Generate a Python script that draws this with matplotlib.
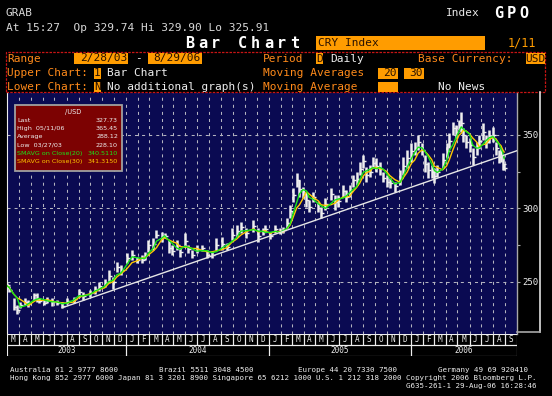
import matplotlib
matplotlib.use("Agg")
import matplotlib.pyplot as plt
import matplotlib.dates as mdates
import matplotlib.patches as mpatches
import matplotlib.markers as mmarkers
from matplotlib.lines import Line2D
import pandas as pd

W, H = 552, 396
NAVY = "#0a0a52"
ORANGE = "#ff9c00"
LABEL_ORANGE = "#ff8a1a"
PANEL_RED = "#c81414"
WHITE = "#eeeeee"
GRAY = "#a8a8a8"
GRID = "#b4b4c0"
GREEN = "#19e619"
YELLOW = "#ffc800"
BOX_RED = "#7c0202"
MONO = "DejaVu Sans Mono"

dates = [
    "2003-02-28", "2003-03-07", "2003-03-18", "2003-03-27", "2003-04-04", "2003-04-17",
    "2003-04-25", "2003-05-09", "2003-05-16", "2003-05-23", "2003-06-03", "2003-06-12",
    "2003-06-25", "2003-07-07", "2003-07-21", "2003-08-01", "2003-08-19", "2003-09-02",
    "2003-09-12", "2003-09-30", "2003-10-13", "2003-10-24", "2003-11-07", "2003-11-17",
    "2003-11-28", "2003-12-08", "2003-12-19", "2004-01-02", "2004-01-16", "2004-01-29",
    "2004-02-10", "2004-02-19", "2004-02-27", "2004-03-11", "2004-03-19", "2004-04-01",
    "2004-04-09", "2004-04-19", "2004-04-27", "2004-05-10", "2004-05-18", "2004-06-01",
    "2004-06-09", "2004-06-17", "2004-06-30", "2004-07-13", "2004-07-26", "2004-08-09",
    "2004-08-20", "2004-09-03", "2004-09-16", "2004-09-28", "2004-10-11", "2004-10-22",
    "2004-11-05", "2004-11-23", "2004-12-06", "2004-12-17", "2004-12-23", "2005-01-05",
    "2005-01-18", "2005-01-31", "2005-02-08", "2005-02-17", "2005-02-25", "2005-03-04",
    "2005-03-14", "2005-03-21", "2005-03-30", "2005-04-08", "2005-04-15", "2005-04-25",
    "2005-05-09", "2005-05-16", "2005-05-27", "2005-06-10", "2005-06-20", "2005-06-28",
    "2005-07-11", "2005-07-19", "2005-07-28", "2005-08-05", "2005-08-15", "2005-08-23",
    "2005-09-01", "2005-09-09", "2005-09-19", "2005-09-26", "2005-10-05", "2005-10-13",
    "2005-10-21", "2005-10-31", "2005-11-08", "2005-11-21", "2005-12-05", "2005-12-12",
    "2005-12-23", "2006-01-03", "2006-01-11", "2006-01-20", "2006-01-30", "2006-02-06",
    "2006-02-15", "2006-02-24", "2006-03-03", "2006-03-10", "2006-03-24", "2006-04-03",
    "2006-04-10", "2006-04-19", "2006-04-27", "2006-05-05", "2006-05-11", "2006-05-15",
    "2006-05-23", "2006-06-01", "2006-06-09", "2006-06-19", "2006-06-26", "2006-07-05",
    "2006-07-13", "2006-07-21", "2006-07-31", "2006-08-08", "2006-08-16", "2006-08-21",
    "2006-08-25", "2006-08-29",
]
highs = [
    248.9, 247.0, 238.6, 234.1, 236.3, 238.6, 237.5, 242.5, 242.0, 238.6, 237.5, 239.3,
    238.6, 237.5, 236.3, 238.6, 239.8, 245.4, 243.2, 244.7, 247.0, 250.0, 251.6, 257.9,
    253.4, 263.6, 261.3, 269.8, 271.6, 267.0, 268.2, 270.4, 278.4, 279.5, 285.2, 284.1,
    283.0, 278.4, 275.0, 278.4, 272.7, 283.0, 275.0, 271.6, 275.0, 275.0, 271.6, 270.4,
    279.5, 280.7, 276.1, 286.4, 288.6, 290.9, 286.4, 292.0, 286.4, 286.4, 288.6, 284.1,
    288.6, 286.4, 287.5, 293.2, 302.3, 313.6, 323.9, 319.3, 314.8, 311.4, 305.7, 311.4,
    304.5, 301.1, 306.8, 313.6, 309.1, 309.1, 315.9, 312.5, 315.9, 322.7, 325.0, 331.8,
    336.4, 328.4, 329.5, 335.2, 334.1, 331.8, 325.0, 322.7, 320.5, 318.2, 326.1, 335.2,
    339.8, 344.3, 345.5, 350.0, 344.3, 336.4, 331.8, 329.5, 327.3, 329.5, 337.5, 344.3,
    351.1, 359.1, 356.8, 360.5, 365.45, 354.5, 350.0, 347.7, 340.9, 345.5, 350.0, 358.0,
    350.0, 353.4, 355.7, 345.5, 339.8, 340.9, 335.2, 329.90,
]
lows = [
    245.4, 243.2, 230.7, 228.1, 231.8, 234.1, 232.5, 237.5, 236.3, 235.2, 234.1, 235.2,
    233.4, 234.1, 231.8, 234.8, 235.2, 239.3, 237.5, 239.3, 241.6, 243.9, 246.1, 250.0,
    245.4, 256.8, 254.5, 262.5, 264.8, 262.5, 262.5, 264.8, 270.4, 271.6, 279.5, 277.3,
    279.5, 269.3, 268.2, 271.6, 267.0, 273.9, 269.3, 265.9, 269.3, 271.1, 265.9, 265.9,
    271.6, 271.6, 271.6, 278.4, 280.7, 283.0, 279.5, 284.1, 277.3, 281.8, 284.1, 278.9,
    283.0, 282.5, 283.0, 286.4, 293.2, 304.5, 314.8, 308.0, 306.8, 301.1, 297.7, 304.5,
    297.7, 293.2, 298.9, 305.7, 298.9, 301.1, 307.9, 304.5, 307.9, 314.8, 315.9, 322.7,
    327.3, 318.2, 321.6, 327.3, 325.0, 322.7, 318.2, 314.8, 313.6, 311.4, 315.9, 322.7,
    327.3, 331.8, 336.4, 339.8, 336.4, 325.0, 320.4, 320.4, 317.0, 321.6, 327.3, 334.1,
    340.9, 350.0, 347.7, 353.4, 352.0, 345.5, 340.9, 338.6, 329.5, 336.4, 340.9, 346.6,
    340.9, 344.3, 345.5, 336.4, 330.7, 331.8, 326.1, 325.91,
]
closes = [
    247.5, 244.5, 233.0, 231.0, 234.0, 236.0, 235.0, 241.0, 238.0, 237.0, 235.5, 237.5,
    236.0, 235.5, 233.5, 237.0, 238.0, 243.0, 240.0, 242.5, 245.0, 247.0, 249.0, 254.0,
    250.0, 260.0, 258.0, 266.0, 268.0, 265.0, 265.0, 268.0, 275.0, 276.0, 282.0, 281.0,
    281.0, 273.0, 271.0, 275.0, 270.0, 278.0, 272.0, 268.5, 272.0, 273.0, 268.5, 268.0,
    275.0, 276.0, 274.0, 282.0, 284.5, 287.0, 283.0, 288.0, 281.0, 284.0, 286.0, 281.0,
    286.0, 284.0, 285.0, 290.0, 298.0, 309.0, 319.0, 313.0, 310.0, 306.0, 301.0, 308.0,
    300.0, 297.0, 303.0, 310.0, 304.0, 305.0, 312.0, 308.0, 312.0, 319.0, 320.0, 327.0,
    332.0, 323.0, 325.0, 331.0, 329.0, 327.0, 321.0, 318.0, 317.0, 315.0, 321.0, 329.0,
    334.0, 339.0, 341.0, 345.0, 340.0, 330.0, 326.0, 325.0, 322.0, 325.0, 333.0, 339.0,
    346.0, 355.0, 352.0, 357.0, 358.0, 350.0, 345.0, 343.0, 335.0, 341.0, 346.0, 352.0,
    345.0, 349.0, 350.0, 341.0, 335.0, 336.0, 330.0, 327.73,
]

trend_dates = ["2003-07-21", "2006-10-01"]
trend_values = [232.3, 339.3]

x_start, x_end = "2003-03-01", "2006-10-01"
y_min, y_max = 214.4, 378.6
major_ticks = [250, 300, 350]
minor_ticks = [275, 325]
month_letters = "JFMAMJJASOND"

legend_rows = [
    ("Last", "327.73", WHITE),
    ("High  05/11/06", "365.45", WHITE),
    ("Average", "288.12", WHITE),
    ("Low  03/27/03", "228.10", WHITE),
    ("SMAVG on Close(20)", "340.5110", GREEN),
    ("SMAVG on Close(30)", "341.3150", YELLOW),
]

fig = plt.figure(figsize=(W / 100, H / 100), dpi=100)
fig.patch.set_facecolor("black")


def ftext(px, py, s, color=WHITE, size=8, ha="left", weight="normal", family=MONO):
    fig.text(px / W, 1 - py / H, s, color=color, fontsize=size, ha=ha, va="center",
             fontweight=weight, family=family)


def fbox(x0, y0, x1, y1, face, edge="none", lw=0.8, ls="-"):
    fig.patches.append(mpatches.Rectangle((x0 / W, 1 - y1 / H), (x1 - x0) / W, (y1 - y0) / H,
                                          transform=fig.transFigure, facecolor=face,
                                          edgecolor=edge, lw=lw, ls=ls, figure=fig))


def fline(xs, ys, color, lw=1.0):
    fig.add_artist(Line2D([x / W for x in xs], [1 - y / H for y in ys], color=color, lw=lw,
                          transform=fig.transFigure))


# ---- header ----
ftext(6, 13, "GRAB", color="#d8d8d8")
ftext(6, 28, "At 15:27  Op 329.74 Hi 329.90 Lo 325.91", color="#d8d8d8")
ftext(446, 13, "Index", color="#e8e8e8")
for i, ch in enumerate("GPO"):
    ftext(499 + i * 12.3, 13, ch, size=11, ha="center", weight="bold", color="white")
for i, ch in enumerate("Bar Chart"):
    ftext(189.5 + i * 13.2, 43, ch, size=11, ha="center", weight="bold", color="white")
fbox(316, 36, 485, 49.5, ORANGE)
ftext(318, 43, "CRY Index", color="#2a1200")
ftext(508, 43, "1/11", color=ORANGE, size=8.5)

fbox(6, 52, 545, 92, "none", edge=PANEL_RED, lw=0.9, ls=(0, (2, 1)))

row1, row2, row3 = 58.5, 73.5, 87.5
ftext(7, row1, "Range", color=LABEL_ORANGE)
fbox(74, 53, 128, 64, ORANGE)
ftext(127, row1, "2/28/03", color="#2a1200", ha="right")
ftext(135, row1, "-")
fbox(148, 53, 202, 64, ORANGE)
ftext(201, row1, "8/29/06", color="#2a1200", ha="right")
ftext(263, row1, "Period", color=LABEL_ORANGE)
fbox(316, 53, 323, 64, ORANGE)
ftext(319.5, row1, "D", color="#2a1200", ha="center")
ftext(330, row1, "Daily")
ftext(418, row1, "Base Currency:", color=LABEL_ORANGE)
fbox(526, 53, 545, 64, ORANGE)
ftext(535.5, row1, "USD", color="#2a1200", ha="center")

ftext(7, row2, "Upper Chart:", color=LABEL_ORANGE)
fbox(94, 68, 100.5, 79, ORANGE)
ftext(97.3, row2, "1", color="#2a1200", ha="center")
ftext(107, row2, "Bar Chart")
ftext(263, row2, "Moving Averages", color=LABEL_ORANGE)
fbox(378, 68, 398, 79, ORANGE)
ftext(397, row2, "20", color="#2a1200", ha="right")
fbox(404, 68, 424, 79, ORANGE)
ftext(423, row2, "30", color="#2a1200", ha="right")

ftext(7, row3, "Lower Chart:", color=LABEL_ORANGE)
fbox(94, 82, 100.5, 92, ORANGE)
ftext(97.3, row3, "N", color="#2a1200", ha="center")
ftext(107, row3, "No additional graph(s)")
ftext(263, row3, "Moving Average", color=LABEL_ORANGE)
fbox(378, 82, 398, 92, ORANGE)
ftext(438, row3, "No News")

# ---- price chart ----
ax = fig.add_axes([7 / W, 1 - 334 / H, 510 / W, 241 / H])
ax.set_facecolor(NAVY)

d = pd.to_datetime(dates)
close_s = pd.Series(closes, index=d)
ma20 = close_s.rolling("28D").mean()
ma30 = close_s.rolling("42D").mean()

ax.vlines(d, lows, highs, color=WHITE, lw=1.8, zorder=3)
ax.plot(d, closes, ls="none", marker=mmarkers.TICKRIGHT, ms=2.5, mew=1, color=WHITE, zorder=3)
ax.plot(ma30.index, ma30.values, color=YELLOW, lw=1.0, zorder=4)
ax.plot(ma20.index, ma20.values, color=GREEN, lw=1.0, zorder=5)
ax.plot(pd.to_datetime(trend_dates), trend_values, color="#e6e6e6", lw=1.0, zorder=6)

ax.set_xlim(pd.Timestamp(x_start), pd.Timestamp(x_end))
ax.set_ylim(y_min, y_max)
month_starts = pd.date_range(x_start, x_end, freq="MS")[1:-1]
ax.set_xticks(month_starts)
ax.tick_params(axis="x", length=0, labelbottom=False)
ax.set_yticks(major_ticks)
ax.set_yticks(minor_ticks, minor=True)
ax.yaxis.tick_right()
ax.tick_params(axis="y", which="both", length=2.5, width=0.8, color=GRAY, pad=1,
               labelsize=6.5, labelcolor=WHITE, left=False, right=True)
for lab in ax.get_yticklabels():
    lab.set_family(MONO)
ax.grid(True, which="major", color=GRID, lw=0.75, ls=(0, (2.9, 3.9)), zorder=1)
for side in ("top", "bottom"):
    ax.spines[side].set_visible(False)
ax.spines["left"].set_color(WHITE)
ax.spines["right"].set_color(GRAY)
ax.spines["right"].set_linewidth(1.0)

# label box frame to the right
fline([540, 540], [92, 332], "#e0e0e0", lw=1.2)
fline([517, 540], [332, 332], GRAY, lw=1.2)

# ---- legend box ----
fbox(15, 105, 122, 171, BOX_RED, edge="#a0a0a0", lw=1.3)
ftext(73, 111.7, "/USD", size=4.8, ha="center", family="DejaVu Sans")
for i, (label, value, col) in enumerate(legend_rows):
    yy = 120 + i * 8.35
    ftext(17, yy, label, color=col, size=4.6, family="DejaVu Sans")
    ftext(118, yy, value, color=col, size=4.6, ha="right", family="DejaVu Sans")

# ---- month / year strip ----
sx = fig.add_axes([7 / W, 1 - 356 / H, 510 / W, 22 / H], sharex=ax)
sx.set_facecolor("black")
sx.set_ylim(0, 2)
sx.axis("off")
edges = pd.date_range(x_start, x_end, freq="MS")
for a, b in zip(edges[:-1], edges[1:]):
    a_n, b_n = mdates.date2num(a), mdates.date2num(b)
    sx.add_patch(mpatches.Rectangle((a_n, 1), b_n - a_n, 1, facecolor="none",
                                    edgecolor=WHITE, lw=0.8))
    sx.text((a_n + b_n) / 2, 1.5, month_letters[a.month - 1], color=WHITE, fontsize=5.5,
            ha="center", va="center", family=MONO)
for yr in sorted(set(e.year for e in edges[:-1])):
    a = max(pd.Timestamp(f"{yr}-01-01"), pd.Timestamp(x_start))
    b = min(pd.Timestamp(f"{yr + 1}-01-01"), pd.Timestamp(x_end))
    a_n, b_n = mdates.date2num(a), mdates.date2num(b)
    sx.add_patch(mpatches.Rectangle((a_n, 0), b_n - a_n, 1, facecolor="none",
                                    edgecolor=WHITE, lw=0.8))
    sx.text((a_n + b_n) / 2, 0.5, str(yr), color=WHITE, fontsize=5.5, ha="center",
            va="center", family=MONO)

# ---- footer ----
fs = 5.4
ftext(10, 370, "Australia 61 2 9777 8600", size=fs)
ftext(159, 370, "Brazil 5511 3048 4500", size=fs)
ftext(298, 370, "Europe 44 20 7330 7500", size=fs)
ftext(438, 370, "Germany 49 69 920410", size=fs)
ftext(10, 378, "Hong Kong 852 2977 6000 Japan 81 3 3201 8900 Singapore 65 6212 1000 "
      "U.S. 1 212 318 2000 Copyright 2006 Bloomberg L.P.", size=fs)
ftext(536, 386, "G635-261-1 29-Aug-06 16:28:46", size=fs, ha="right")

fig.savefig("out.png", dpi=100, facecolor="black")
